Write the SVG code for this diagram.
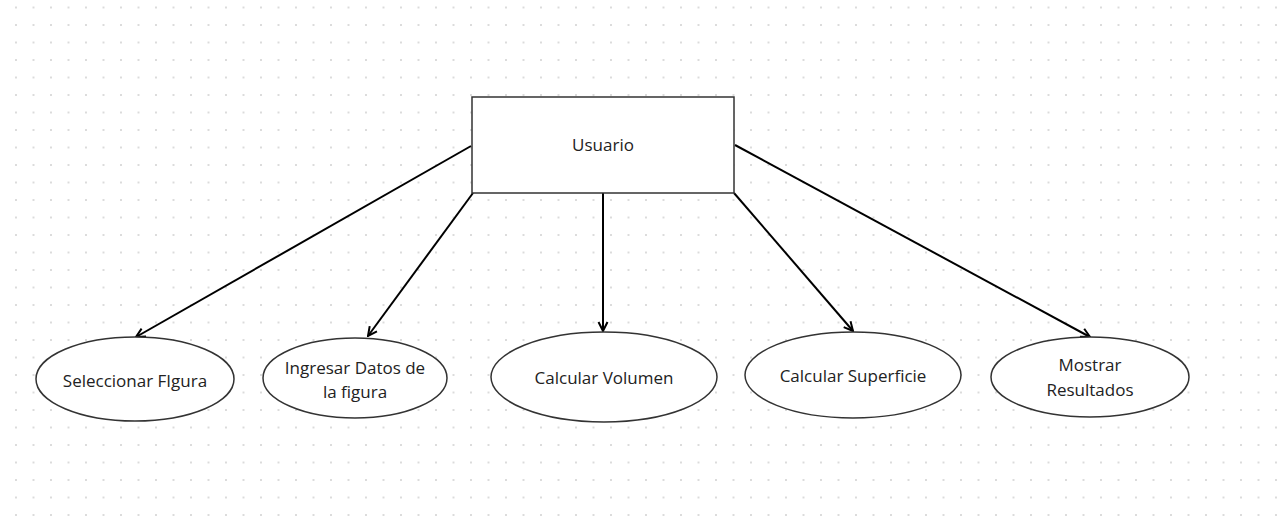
<svg xmlns="http://www.w3.org/2000/svg" width="1280" height="530" viewBox="0 0 1280 530">
<defs>
<pattern id="dots" x="16" y="7.5" width="17.5" height="17.5" patternUnits="userSpaceOnUse">
<circle cx="0" cy="0" r="1" fill="#cfcfcf"/>
<circle cx="17.5" cy="0" r="1" fill="#cfcfcf"/>
<circle cx="0" cy="17.5" r="1" fill="#cfcfcf"/>
<circle cx="17.5" cy="17.5" r="1" fill="#cfcfcf"/>
</pattern>
<marker id="arr" viewBox="0 0 12 12" refX="11" refY="6" markerWidth="12" markerHeight="12" markerUnits="userSpaceOnUse" orient="auto">
<path d="M2,1.5 L11,6 L2,10.5" fill="none" stroke="#000" stroke-width="2" stroke-linejoin="miter"/>
</marker>
</defs>
<style>
.node{fill:#fff;stroke:#333;stroke-width:1.5}
.lbl{font-family:"Open Sans","Noto Sans",sans-serif;font-size:17px;fill:#222;text-anchor:middle}
.edge{stroke:#000;stroke-width:2;fill:none;marker-end:url(#arr)}
</style>
<rect width="1280" height="530" fill="#fff"/>
<rect width="1280" height="530" fill="url(#dots)"/>
<g id="connectors">
<line class="edge" x1="471" y1="146" x2="136" y2="337"/>
<line class="edge" x1="473" y1="193" x2="368" y2="336"/>
<line class="edge" x1="603" y1="193" x2="603" y2="331"/>
<line class="edge" x1="734" y1="193" x2="853" y2="331"/>
<line class="edge" x1="735" y1="145" x2="1090" y2="337"/>
</g>
<g id="usuario">
<rect class="node" x="472" y="97" width="262" height="96"/>
<text class="lbl" x="603" y="151">Usuario</text>
</g>
<g id="seleccionar">
<ellipse class="node" cx="135" cy="379" rx="99" ry="42"/>
<text class="lbl" x="135" y="387">Seleccionar FIgura</text>
</g>
<g id="ingresar">
<ellipse class="node" cx="355" cy="378" rx="92" ry="40"/>
<text class="lbl" x="355" y="374">Ingresar Datos de</text>
<text class="lbl" x="355" y="398">la figura</text>
</g>
<g id="volumen">
<ellipse class="node" cx="604" cy="377" rx="113" ry="45"/>
<text class="lbl" x="604" y="384">Calcular Volumen</text>
</g>
<g id="superficie">
<ellipse class="node" cx="853" cy="375" rx="108" ry="43"/>
<text class="lbl" x="853" y="382">Calcular Superficie</text>
</g>
<g id="mostrar">
<ellipse class="node" cx="1090" cy="377" rx="99" ry="40"/>
<text class="lbl" x="1090" y="371">Mostrar</text>
<text class="lbl" x="1090" y="396">Resultados</text>
</g>
</svg>
